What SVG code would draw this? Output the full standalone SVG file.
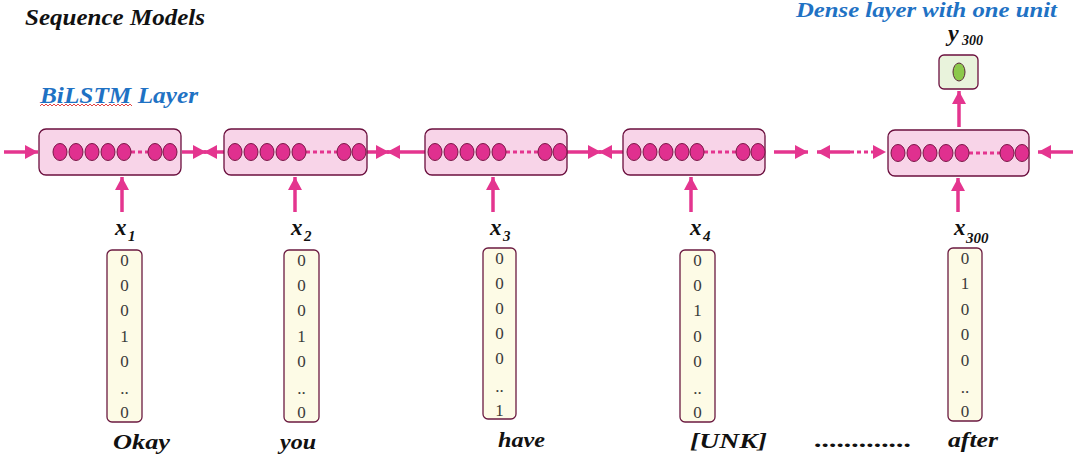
<svg xmlns="http://www.w3.org/2000/svg" width="1079" height="458" viewBox="0 0 1079 458">
<style>
text{font-family:'Liberation Serif',serif;}
.title{font-weight:bold;font-style:italic;}
.blue{fill:#1f72c4;}
.blk{fill:#111;}
.cell{fill:#f8d4e8;stroke:#6b0f3e;stroke-width:1.3;}
.u{fill:#e0308f;stroke:#7a1747;stroke-width:1;}
.dot{stroke:#e4358f;stroke-width:3;stroke-dasharray:4 3;fill:none;}
.arr{stroke:#e4358f;stroke-width:3.5;fill:none;marker-end:url(#ah);}
.vec{fill:#fdfbe6;stroke:#6b1a40;stroke-width:1.3;}
.num{font-size:17px;fill:#3a3a3a;text-anchor:middle;}
.lab{font-weight:bold;font-style:italic;fill:#111;}
</style>
<defs>
<marker id="ah" markerUnits="userSpaceOnUse" markerWidth="14" markerHeight="14" refX="13" refY="7" orient="auto">
<path d="M0,0 L13,7 L0,14 z" fill="#e4358f"/>
</marker>
</defs>

<text class="title blk" x="25" y="25" font-size="23" textLength="180" lengthAdjust="spacingAndGlyphs">Sequence Models</text>
<text class="title blue" x="40" y="103" font-size="23" textLength="158" lengthAdjust="spacingAndGlyphs">BiLSTM Layer</text>
<path d="M40,106 l2,-2 l2,2 l2,-2 l2,2 l2,-2 l2,2 l2,-2 l2,2 l2,-2 l2,2 l2,-2 l2,2 l2,-2 l2,2 l2,-2 l2,2 l2,-2 l2,2 l2,-2 l2,2 l2,-2 l2,2 l2,-2 l2,2 l2,-2 l2,2 l2,-2 l2,2 l2,-2 l2,2 l2,-2 l2,2 l2,-2 l2,2 l2,-2 l2,2 l2,-2 l2,2 l2,-2 l2,2 l2,-2 l2,2 l2,-2 l2,2 l2,-2 l2,2" fill="none" stroke="#e03030" stroke-width="0.9"/>
<text class="title blue" x="796" y="17" font-size="21" textLength="261" lengthAdjust="spacingAndGlyphs">Dense layer with one unit</text>

<g id="connectors">
<line class="arr" x1="4" y1="152" x2="38" y2="152"/>
<line class="arr" x1="182" y1="152" x2="206" y2="152"/>
<line class="arr" x1="224" y1="152" x2="204" y2="152"/>
<line class="arr" x1="367" y1="152" x2="389" y2="152"/>
<line class="arr" x1="425" y1="152" x2="387" y2="152"/>
<line class="arr" x1="567" y1="152" x2="601" y2="152"/>
<line class="arr" x1="623" y1="152" x2="599" y2="152"/>
<line class="arr" x1="774" y1="152" x2="808" y2="152"/>
<line class="arr" x1="850" y1="152" x2="817" y2="152"/>
<line class="dot" x1="850" y1="152" x2="874" y2="152"/>
<path d="M873,145 L886,152 L873,159 z" fill="#e4358f"/>
<line class="arr" x1="1073" y1="152" x2="1038" y2="152"/>
<line class="arr" x1="122" y1="212" x2="122" y2="177"/>
<line class="arr" x1="295" y1="212" x2="295" y2="177"/>
<line class="arr" x1="493" y1="212" x2="493" y2="177"/>
<line class="arr" x1="691" y1="212" x2="691" y2="177"/>
<line class="arr" x1="958" y1="212" x2="958" y2="178"/>
<line class="arr" x1="959" y1="127" x2="959" y2="91"/>
</g>

<g id="lstm1">
<rect class="cell" x="39" y="129" width="142" height="46" rx="7"/>
<line class="dot" x1="131" y1="152" x2="148" y2="152"/>
<ellipse class="u" cx="60" cy="152" rx="7" ry="8.5"/><ellipse class="u" cx="76" cy="152" rx="7" ry="8.5"/><ellipse class="u" cx="92" cy="152" rx="7" ry="8.5"/><ellipse class="u" cx="108" cy="152" rx="7" ry="8.5"/><ellipse class="u" cx="124" cy="152" rx="7" ry="8.5"/><ellipse class="u" cx="155" cy="152" rx="7" ry="8.5"/><ellipse class="u" cx="170" cy="152" rx="7" ry="8.5"/>
</g>
<g id="lstm2">
<rect class="cell" x="224" y="129" width="143" height="46" rx="7"/>
<line class="dot" x1="306" y1="152" x2="337" y2="152"/>
<ellipse class="u" cx="235" cy="152" rx="7" ry="8.5"/><ellipse class="u" cx="251" cy="152" rx="7" ry="8.5"/><ellipse class="u" cx="267" cy="152" rx="7" ry="8.5"/><ellipse class="u" cx="283" cy="152" rx="7" ry="8.5"/><ellipse class="u" cx="299" cy="152" rx="7" ry="8.5"/><ellipse class="u" cx="344" cy="152" rx="7" ry="8.5"/><ellipse class="u" cx="359" cy="152" rx="7" ry="8.5"/>
</g>
<g id="lstm3">
<rect class="cell" x="425" y="129" width="142" height="46" rx="7"/>
<line class="dot" x1="506" y1="152" x2="538" y2="152"/>
<ellipse class="u" cx="435" cy="152" rx="7" ry="8.5"/><ellipse class="u" cx="451" cy="152" rx="7" ry="8.5"/><ellipse class="u" cx="467" cy="152" rx="7" ry="8.5"/><ellipse class="u" cx="483" cy="152" rx="7" ry="8.5"/><ellipse class="u" cx="499" cy="152" rx="7" ry="8.5"/><ellipse class="u" cx="545" cy="152" rx="7" ry="8.5"/><ellipse class="u" cx="560" cy="152" rx="7" ry="8.5"/>
</g>
<g id="lstm4">
<rect class="cell" x="623" y="129" width="142" height="46" rx="7"/>
<line class="dot" x1="704" y1="152" x2="736" y2="152"/>
<ellipse class="u" cx="634" cy="152" rx="7" ry="8.5"/><ellipse class="u" cx="650" cy="152" rx="7" ry="8.5"/><ellipse class="u" cx="666" cy="152" rx="7" ry="8.5"/><ellipse class="u" cx="682" cy="152" rx="7" ry="8.5"/><ellipse class="u" cx="697" cy="152" rx="7" ry="8.5"/><ellipse class="u" cx="743" cy="152" rx="7" ry="8.5"/><ellipse class="u" cx="758" cy="152" rx="7" ry="8.5"/>
</g>
<g id="lstm5">
<rect class="cell" x="888" y="130" width="141" height="46" rx="7"/>
<line class="dot" x1="969" y1="153" x2="1000" y2="153"/>
<ellipse class="u" cx="898" cy="153" rx="7" ry="8.5"/><ellipse class="u" cx="914" cy="153" rx="7" ry="8.5"/><ellipse class="u" cx="930" cy="153" rx="7" ry="8.5"/><ellipse class="u" cx="946" cy="153" rx="7" ry="8.5"/><ellipse class="u" cx="962" cy="153" rx="7" ry="8.5"/><ellipse class="u" cx="1007" cy="153" rx="7" ry="8.5"/><ellipse class="u" cx="1022" cy="153" rx="7" ry="8.5"/>
</g>
<g id="dense">
<rect x="939" y="55" width="39" height="34" rx="5" fill="#e9f3dc" stroke="#6b0f3e" stroke-width="1.3"/>
<ellipse cx="959" cy="72" rx="6" ry="9" fill="#8cc84b" stroke="#5a2a3a" stroke-width="1"/>
<text class="lab" x="948" y="41" font-size="24">y</text><text class="lab" x="962" y="45" font-size="14">300</text>
</g>

<g id="x1">
<text class="lab" x="115" y="235" font-size="23">x</text><text class="lab" x="128" y="241" font-size="15">1</text>
<rect class="vec" x="107" y="250" width="35" height="172" rx="5"/>
<text class="num" x="124.5" y="266">0</text><text class="num" x="124.5" y="291">0</text><text class="num" x="124.5" y="316">0</text><text class="num" x="124.5" y="342">1</text><text class="num" x="124.5" y="367">0</text><text class="num" x="124.5" y="394">..</text><text class="num" x="124.5" y="418">0</text>
<text class="lab" x="113" y="449" font-size="22" textLength="57" lengthAdjust="spacingAndGlyphs">Okay</text>
</g>
<g id="x2">
<text class="lab" x="291" y="235" font-size="23">x</text><text class="lab" x="304" y="241" font-size="15">2</text>
<rect class="vec" x="284" y="250" width="35" height="172" rx="5"/>
<text class="num" x="301.5" y="266">0</text><text class="num" x="301.5" y="291">0</text><text class="num" x="301.5" y="316">0</text><text class="num" x="301.5" y="342">1</text><text class="num" x="301.5" y="367">0</text><text class="num" x="301.5" y="394">..</text><text class="num" x="301.5" y="418">0</text>
<text class="lab" x="280" y="449" font-size="22" textLength="36" lengthAdjust="spacingAndGlyphs">you</text>
</g>
<g id="x3">
<text class="lab" x="490" y="235" font-size="23">x</text><text class="lab" x="503" y="241" font-size="15">3</text>
<rect class="vec" x="483" y="248" width="33" height="171" rx="5"/>
<text class="num" x="499.5" y="264">0</text><text class="num" x="499.5" y="289">0</text><text class="num" x="499.5" y="314">0</text><text class="num" x="499.5" y="339">0</text><text class="num" x="499.5" y="364">0</text><text class="num" x="499.5" y="392">..</text><text class="num" x="499.5" y="416">1</text>
<text class="lab" x="498" y="447" font-size="22" textLength="47" lengthAdjust="spacingAndGlyphs">have</text>
</g>
<g id="x4">
<text class="lab" x="690" y="235" font-size="23">x</text><text class="lab" x="703" y="241" font-size="15">4</text>
<rect class="vec" x="680" y="250" width="35" height="172" rx="5"/>
<text class="num" x="697.5" y="266">0</text><text class="num" x="697.5" y="291">0</text><text class="num" x="697.5" y="316">1</text><text class="num" x="697.5" y="342">0</text><text class="num" x="697.5" y="367">0</text><text class="num" x="697.5" y="394">..</text><text class="num" x="697.5" y="418">0</text>
<text class="lab" x="690" y="448" font-size="22" textLength="77" lengthAdjust="spacingAndGlyphs">[UNK]</text>
</g>
<text class="lab" x="815" y="447" font-size="22" textLength="97" lengthAdjust="spacingAndGlyphs">.............</text>
<g id="x300">
<text class="lab" x="954" y="235" font-size="23">x</text><text class="lab" x="966" y="243" font-size="15">300</text>
<rect class="vec" x="948" y="248" width="34" height="173" rx="5"/>
<text class="num" x="965" y="264">0</text><text class="num" x="965" y="289">1</text><text class="num" x="965" y="315">0</text><text class="num" x="965" y="340">0</text><text class="num" x="965" y="366">0</text><text class="num" x="965" y="393">..</text><text class="num" x="965" y="417">0</text>
<text class="lab" x="948" y="447" font-size="22" textLength="50" lengthAdjust="spacingAndGlyphs">after</text>
</g>
</svg>
